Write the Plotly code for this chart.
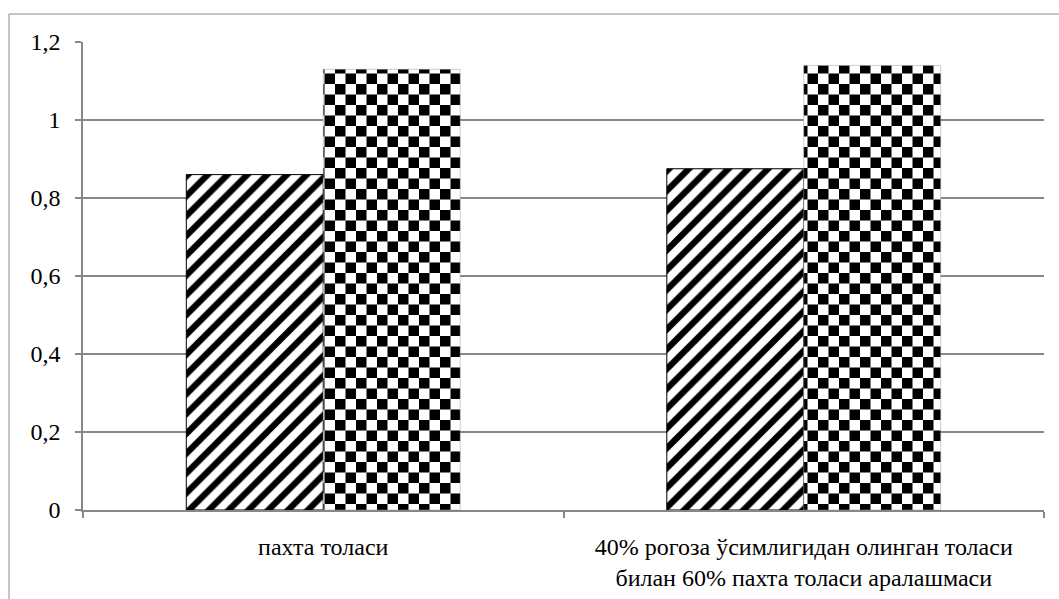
import plotly.graph_objects as go

categories = ["пахта толаси",
              "40% рогоза ўсимлигидан олинган толаси<br>билан 60% пахта толаси аралашмаси"]
series_1 = [0.86, 0.875]
series_2 = [1.13, 1.14]
y_ticks = [0, 0.2, 0.4, 0.6, 0.8, 1.0, 1.2]

GRID = "#878787"
FONT = dict(family="Times New Roman", size=24, color="#000000")

fig = go.Figure()
fig.add_trace(go.Bar(
    x=categories, y=series_1, name="1",
    marker=dict(color="#ffffff",
                line=dict(color="#000000", width=1),
                pattern=dict(shape="/", size=14, solidity=0.45,
                             fgcolor="#000000", bgcolor="#ffffff", fillmode="replace")),
))
fig.add_trace(go.Bar(
    x=categories, y=series_2, name="2",
    marker=dict(color="#ffffff",
                line=dict(color="#9a9a9a", width=0.5),
                pattern=dict(shape=".", size=21, solidity=0.5,
                             fgcolor="#000000", bgcolor="#ffffff", fillmode="replace")),
))

fig.update_layout(
    width=1059, height=599,
    margin=dict(l=83, r=15, t=42, b=89),
    paper_bgcolor="#ffffff", plot_bgcolor="#ffffff",
    barmode="group", bargap=0.43, bargroupgap=0,
    showlegend=False,
    separators=", ",
    font=FONT,
    shapes=[dict(type="rect", xref="paper", yref="paper",
                 x0=-0.077, x1=1.03, y0=1.0598, y1=-0.2,
                 line=dict(color="#8c8c8c", width=1), fillcolor="rgba(0,0,0,0)",
                 layer="above")],
)
fig.update_xaxes(
    automargin=False,
    showline=True, linecolor=GRID, linewidth=1.5,
    ticks="outside", tickson="boundaries", ticklen=6, tickcolor=GRID, tickwidth=1.5,
    showgrid=False, tickfont=FONT, ticklabelstandoff=14,
)
fig.update_yaxes(
    automargin=False,
    range=[0, 1.2], tickvals=y_ticks,
    showline=True, linecolor=GRID, linewidth=1.5,
    ticks="outside", ticklen=6, tickcolor=GRID, tickwidth=1.5,
    showgrid=True, gridcolor=GRID, gridwidth=1.5, zeroline=False,
    tickfont=FONT, ticklabelstandoff=10,
)

post = """
(function(){
  document.body.style.margin='0';
  document.body.style.overflow='hidden';
  document.querySelectorAll('.xtick text, .ytick text, .xtick tspan').forEach(function(t){
    t.style.fontFamily = "'Liberation Serif', 'Times New Roman', serif";
  });
  var NS='http://www.w3.org/2000/svg';
  var c=10.5;
  document.querySelectorAll('pattern').forEach(function(p){
    if(p.querySelector('path')) return;
    if(!p.querySelector('circle')) return;
    p.setAttribute('width', 2*c); p.setAttribute('height', 2*c);
    while(p.firstChild) p.removeChild(p.firstChild);
    function mk(x,y,w,h,f){var r=document.createElementNS(NS,'rect');
      r.setAttribute('x',x);r.setAttribute('y',y);r.setAttribute('width',w);
      r.setAttribute('height',h);r.setAttribute('fill',f);p.appendChild(r);}
    mk(0,0,2*c,2*c,'#ffffff'); mk(0,0,c,c,'#000000'); mk(c,c,c,c,'#000000');
  });
})();
"""

fig.write_html("out.html", post_script=post, config={"displayModeBar": False})
